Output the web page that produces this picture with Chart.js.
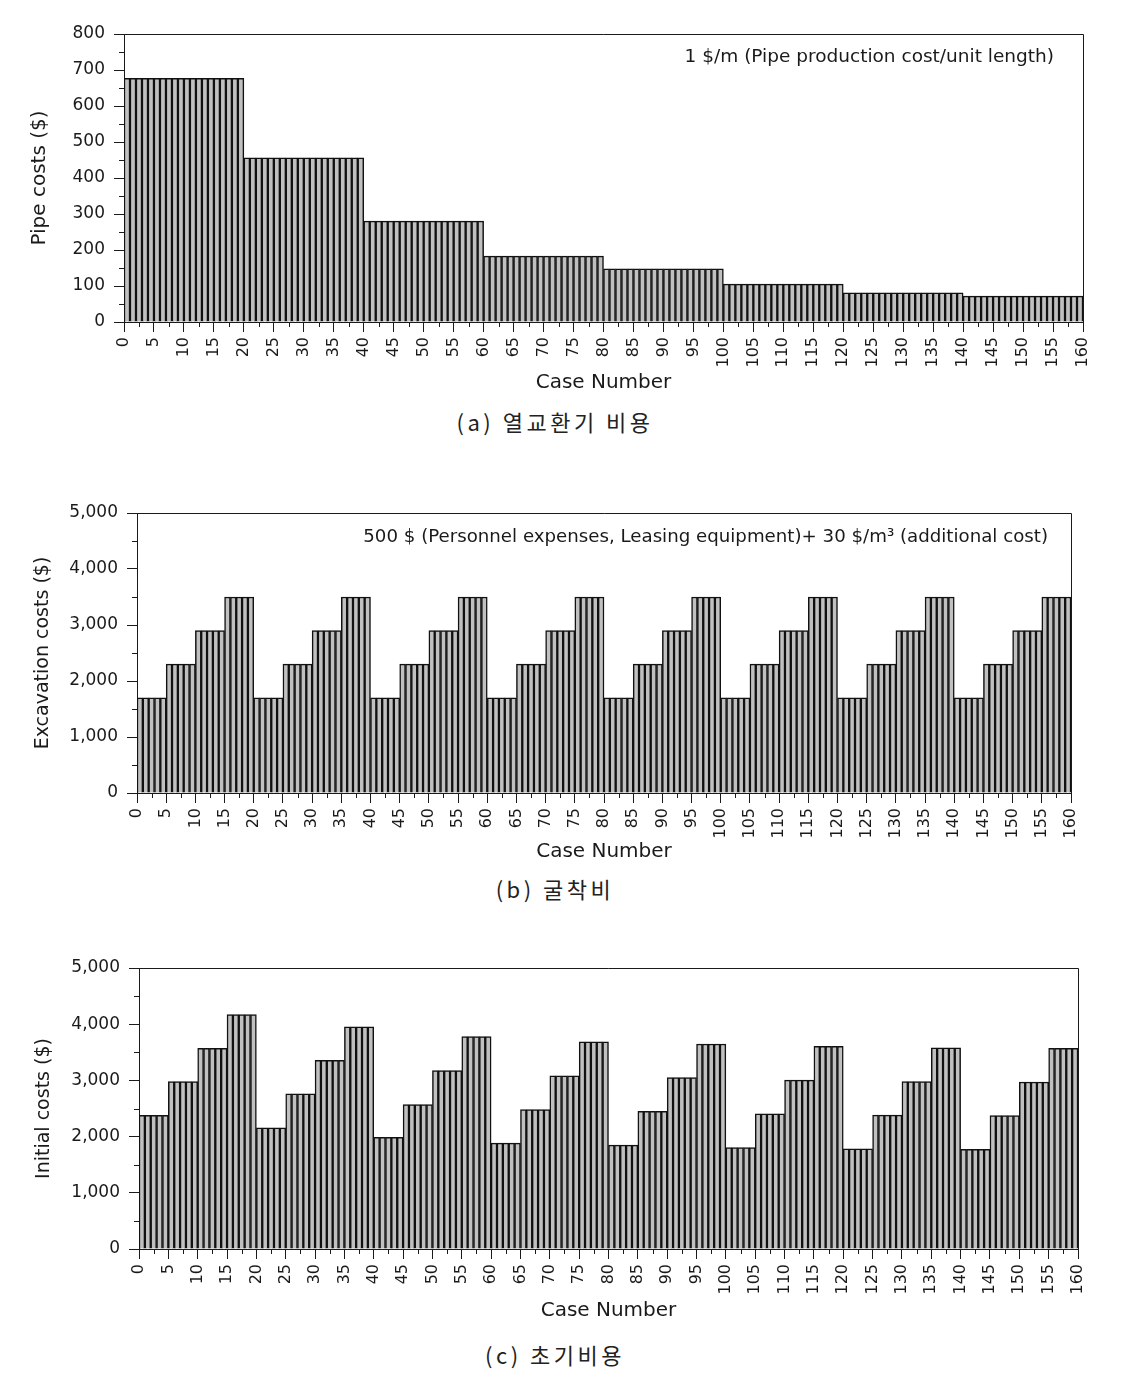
<!DOCTYPE html>
<html>
<head>
<meta charset="utf-8">
<script src="https://cdn.jsdelivr.net/npm/chart.js@4"></script>
<style>
  body { margin: 0; background: #fff; width: 1143px; height: 1389px; position: relative; }
  .panel { position: absolute; left: 0; width: 1143px; }
  .caption { position: absolute; left: 0; width: 1110px; text-align: center; letter-spacing: 3.5px;
             font-family: "Noto Sans CJK KR", sans-serif; font-size: 22px; font-weight: 400; color: #222; }
</style>
</head>
<body>
<div class="panel" style="top:0;height:400px"><canvas id="pipeChart" width="1143" height="400"></canvas></div>
<div class="caption" style="top:405px">(a) 열교환기 비용</div>
<div class="panel" style="top:470px;height:400px"><canvas id="excavationChart" width="1143" height="400"></canvas></div>
<div class="caption" style="top:872px">(b) 굴착비</div>
<div class="panel" style="top:930px;height:400px"><canvas id="initialChart" width="1143" height="400"></canvas></div>
<div class="caption" style="top:1338px">(c) 초기비용</div>

<script>
// x axis: case numbers 1..160, labels every 5
const xTickValues = [0, 5, 10, 15, 20, 25, 30, 35, 40, 45, 50, 55, 60, 65, 70, 75, 80,
    85, 90, 95, 100, 105, 110, 115, 120, 125, 130, 135, 140, 145, 150, 155, 160];
const pipeTicks = [0, 100, 200, 300, 400, 500, 600, 700, 800];
const costTicks = [0, 1000, 2000, 3000, 4000, 5000];

// (a) pipe cost, one level per 20 cases
const pipeLevels = [677, 456, 280, 183, 148, 105, 81, 72];

// (b) excavation cost, one level per 5 cases
const excavationLevels = [
    1700, 2300, 2900, 3500, 1700, 2300, 2900, 3500,
    1700, 2300, 2900, 3500, 1700, 2300, 2900, 3500,
    1700, 2300, 2900, 3500, 1700, 2300, 2900, 3500,
    1700, 2300, 2900, 3500, 1700, 2300, 2900, 3500
];

// (c) initial cost, one level per 5 cases
const initialLevels = [
    2380, 2980, 3570, 4170, 2155, 2760, 3355, 3955,
    1985, 2570, 3175, 3780, 1883, 2483, 3083, 3685,
    1848, 2448, 3048, 3648, 1805, 2405, 3005, 3605,
    1781, 2381, 2981, 3581, 1772, 2372, 2972, 3572
];

function stepSeries(levels, casesPerLevel) {
    let out = [];
    levels.forEach((v, i) => {
        for (let k = 1; k <= casesPerLevel; k++) {
            const caseNo = i * casesPerLevel + k;
            out.push({ x: caseNo - 0.5, y: v });
        }
    });
    return out;
}

// frame on top/right, minor ticks and the note text
const frameAndMinor = {
    id: 'frameAndMinor',
    afterDraw(chart, args, opts) {
        const { ctx, chartArea: a, scales: { x, y } } = chart;
        ctx.save();
        ctx.strokeStyle = '#1a1a1a';
        ctx.lineWidth = 1;
        ctx.beginPath();
        ctx.moveTo(a.left, a.top + 0.5);
        ctx.lineTo(a.right + 0.5, a.top + 0.5);
        ctx.lineTo(a.right + 0.5, a.bottom);
        for (let i = 0; i < xTickValues.length - 1; i++) {
            const px = Math.round(x.getPixelForValue((xTickValues[i] + xTickValues[i + 1]) / 2)) + 0.5;
            ctx.moveTo(px, a.bottom);
            ctx.lineTo(px, a.bottom + 5);
        }
        const yt = opts.yTicks;
        for (let i = 0; i < yt.length - 1; i++) {
            const py = Math.round(y.getPixelForValue((yt[i] + yt[i + 1]) / 2)) + 0.5;
            ctx.moveTo(a.left - 5, py);
            ctx.lineTo(a.left, py);
        }
        ctx.stroke();
        ctx.fillStyle = '#1a1a1a';
        ctx.font = opts.noteFont;
        ctx.textAlign = 'right';
        ctx.textBaseline = 'middle';
        ctx.fillText(opts.note, a.right - opts.noteRight, a.top + opts.noteTop);
        ctx.restore();
    }
};

function makeChart(id, s) {
    const ctx = document.getElementById(id).getContext("2d");
    return new Chart(ctx, {
        type: "bar",
        data: {
            datasets: [{
                data: s.data,
                backgroundColor: "#c0c0c0",
                borderColor: "#111",
                borderWidth: 1.5,
                barPercentage: 1,
                categoryPercentage: 1
            }]
        },
        options: {
            responsive: false,
            animation: false,
            layout: { padding: { top: s.top, right: s.right, left: 0, bottom: 0 } },
            plugins: {
                legend: { display: false },
                tooltip: { enabled: false },
                frameAndMinor: { yTicks: s.yTicks, note: s.note, noteFont: s.noteFont, noteRight: s.noteRight, noteTop: s.noteTop }
            },
            scales: {
                x: {
                    type: "linear",
                    min: 0, max: 160,
                    offset: false,
                    afterBuildTicks: sc => { sc.ticks = xTickValues.map(v => ({ value: v })); },
                    afterFit: sc => { sc.height = s.xHeight; },
                    grid: { offset: false, drawOnChartArea: false, tickLength: 10, tickColor: "#1a1a1a" },
                    border: { color: "#1a1a1a", width: 1 },
                    ticks: {
                        autoSkip: false, minRotation: 90, maxRotation: 90, padding: 5,
                        color: "#1a1a1a", font: { family: "DejaVu Sans", size: 16 }
                    },
                    title: {
                        display: true, text: "Case Number", color: "#1a1a1a",
                        font: { family: "DejaVu Sans", size: 20, lineHeight: 1.2 },
                        padding: { top: 0, bottom: s.xTitlePad }
                    }
                },
                y: {
                    min: 0, max: s.yTicks[s.yTicks.length - 1],
                    afterBuildTicks: sc => { sc.ticks = s.yTicks.map(v => ({ value: v })); },
                    afterFit: sc => { sc.width = s.yWidth; },
                    grid: { drawOnChartArea: false, tickLength: 10, tickColor: "#1a1a1a" },
                    border: { color: "#1a1a1a", width: 1 },
                    ticks: {
                        padding: 9, color: "#1a1a1a",
                        font: { family: "DejaVu Sans", size: 17 },
                        callback: v => v.toLocaleString("en-US")
                    },
                    title: {
                        display: true, text: s.yTitle, color: "#1a1a1a",
                        font: { family: "DejaVu Sans", size: s.yTitleSize, lineHeight: 1.2 },
                        padding: { top: s.yTitlePad, bottom: 0 }
                    }
                }
            }
        },
        plugins: [frameAndMinor]
    });
}

makeChart("pipeChart", {
    data: stepSeries(pipeLevels, 20),
    yTicks: pipeTicks,
    yTitle: "Pipe costs ($)", yTitleSize: 20, yTitlePad: 28,
    top: 34, right: 60, yWidth: 124, xHeight: 78, xTitlePad: 5,
    note: "1 $/m (Pipe production cost/unit length)", noteFont: "18.5px 'DejaVu Sans'",
    noteRight: 29, noteTop: 23
});

makeChart("excavationChart", {
    data: stepSeries(excavationLevels, 5),
    yTicks: costTicks,
    yTitle: "Excavation costs ($)", yTitleSize: 19, yTitlePad: 32,
    top: 43, right: 72, yWidth: 137, xHeight: 77, xTitlePad: 6,
    note: "500 $ (Personnel expenses, Leasing equipment)+ 30 $/m\u00B3 (additional cost)", noteFont: "18.2px 'DejaVu Sans'",
    noteRight: 23, noteTop: 24
});

makeChart("initialChart", {
    data: stepSeries(initialLevels, 5),
    yTicks: costTicks,
    yTitle: "Initial costs ($)", yTitleSize: 19, yTitlePad: 33,
    top: 38, right: 65, yWidth: 139, xHeight: 81, xTitlePad: 7,
    note: "", noteFont: "17px 'DejaVu Sans'", noteRight: 0, noteTop: 0
});
</script>
</body>
</html>
